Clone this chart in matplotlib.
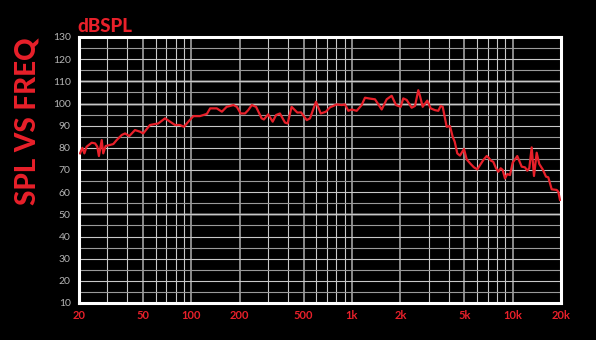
"""SPL vs frequency response chart on a black background."""
import matplotlib

matplotlib.use("Agg")
import matplotlib.pyplot as plt
from matplotlib.ticker import FixedLocator, LogLocator, NullFormatter

RED = "#e8202a"
GREY_TEXT = "#b5b5b5"

freq_hz = [
    20.3, 21.0, 21.6, 22.3, 24.0, 25.2, 26.0, 26.6, 27.7, 28.3, 29.3, 31.2,
    32.7, 34.3, 36.9, 38.7, 41.1, 44.6, 47.9, 50.2, 55.3, 62.3, 68.6, 73.7,
    79.2, 85.0, 90.1, 95.8, 103, 113, 125, 131, 144, 155, 166, 183, 192, 203,
    216, 226, 238, 253, 274, 283, 301, 321, 337, 356, 383, 398, 421, 457, 482,
    523, 548, 597, 639, 689, 730, 765, 803, 863, 905, 949, 996, 1070, 1149,
    1205, 1295, 1391, 1531, 1645, 1767, 1879, 2010, 2086, 2191, 2353, 2468,
    2587, 2650, 2755, 2943, 3090, 3286, 3446, 3567, 3671, 3886, 4074, 4234,
    4358, 4524, 4702, 4980, 5176, 5482, 5746, 6025, 6263, 6566, 6896, 7056,
    7334, 7579, 7878, 8143, 8427, 8673, 8964, 9264, 9627, 10007, 10689, 11387,
    11938, 12338, 12695, 13140, 13580, 14114, 14650, 15382, 16129, 16670,
    17500, 18800, 19240, 19710,
]
spl_db = [
    77.5, 80.0, 77.5, 80.5, 82.3, 82.0, 80.5, 76.3, 83.5, 77.5, 80.8, 81.3,
    81.7, 83.5, 85.8, 86.5, 85.3, 88.0, 87.3, 86.5, 90.3, 91.0, 93.3, 91.8,
    90.3, 90.3, 89.5, 91.8, 94.3, 94.3, 95.3, 97.8, 97.8, 96.3, 98.5, 99.3,
    98.5, 95.5, 95.5, 97.0, 99.3, 98.5, 93.3, 92.8, 95.1, 91.8, 94.8, 95.5,
    91.4, 91.0, 98.5, 95.9, 96.0, 92.5, 93.3, 100.8, 95.5, 96.3, 98.3, 98.9,
    99.6, 99.3, 99.6, 96.7, 97.3, 96.7, 99.3, 102.6, 102.2, 101.9, 97.3,
    101.9, 103.5, 99.3, 98.5, 102.3, 101.6, 98.1, 98.9, 106.0, 103.4, 98.5,
    101.3, 97.8, 97.0, 96.7, 98.9, 98.5, 89.5, 89.8, 85.0, 82.8, 77.5, 76.5,
    79.5, 74.8, 72.7, 71.2, 70.3, 72.2, 74.5, 76.3, 75.7, 74.2, 73.7, 70.8,
    69.2, 70.8, 70.0, 66.2, 68.2, 67.7, 73.3, 76.3, 71.5, 71.2, 69.7, 70.8,
    80.2, 67.3, 77.8, 72.7, 70.3, 67.0, 66.7, 61.3, 61.0, 60.2, 56.5,
]

x_ticks = [20, 50, 100, 200, 500, 1000, 2000, 5000, 10000, 20000]
x_tick_labels = ["20", "50", "100", "200", "500", "1k", "2k", "5k", "10k", "20k"]
y_ticks = list(range(10, 131, 10))

fig = plt.figure(figsize=(5.96, 3.40), dpi=100, facecolor="black")
ax = fig.add_axes([79 / 596, 37 / 340, 482 / 596, 266 / 340], facecolor="black")

ax.set_xscale("log")
ax.set_xlim(20, 20000)
ax.set_ylim(10, 130)

# grid: log verticals, 5 dB horizontals
ax.xaxis.set_minor_locator(LogLocator(base=10, subs=range(1, 10), numticks=20))
ax.xaxis.set_minor_formatter(NullFormatter())
ax.yaxis.set_minor_locator(FixedLocator(list(range(15, 130, 10))))
ax.grid(True, which="minor", axis="x", color="#c8c8c8", linewidth=0.8)
ax.grid(True, which="major", axis="x", color="#8a8a8a", linewidth=1.4)
ax.grid(True, which="major", axis="y", color="#c8c8c8", linewidth=0.8)
ax.grid(True, which="minor", axis="y", color="#9a9a9a", linewidth=0.8)
for y in (50, 100, 110):
    ax.axhline(y, color="#606060", linewidth=1.8, zorder=0.6)

ax.plot(freq_hz, spl_db, color=RED, linewidth=1.6, zorder=3)

ax.set_xticks(x_ticks)
ax.set_xticklabels(x_tick_labels)
ax.set_yticks(y_ticks)
ax.tick_params(axis="both", which="both", length=0)
ax.tick_params(axis="x", pad=5, labelsize=8, labelcolor=RED)
ax.tick_params(axis="y", pad=6, labelsize=7.5, labelcolor=GREY_TEXT)
for lab in ax.get_xticklabels():
    lab.set_fontweight("bold")
    lab.set_fontfamily("Lato")
for lab in ax.get_yticklabels():
    lab.set_fontfamily("Lato")

for spine in ax.spines.values():
    spine.set_color("white")
    spine.set_linewidth(2.2)

fig.text(77 / 596, 1 - 27 / 340, "dBSPL", color=RED, fontsize=13.5,
         fontweight="black", family="Lato", ha="left", va="center")
fig.text(28 / 596, 1 - 121 / 340, "SPL VS FREQ", color=RED, fontsize=20,
         fontweight="black", family="Lato", rotation=90,
         ha="center", va="center")

fig.savefig("out.png", dpi=100, facecolor="black")
